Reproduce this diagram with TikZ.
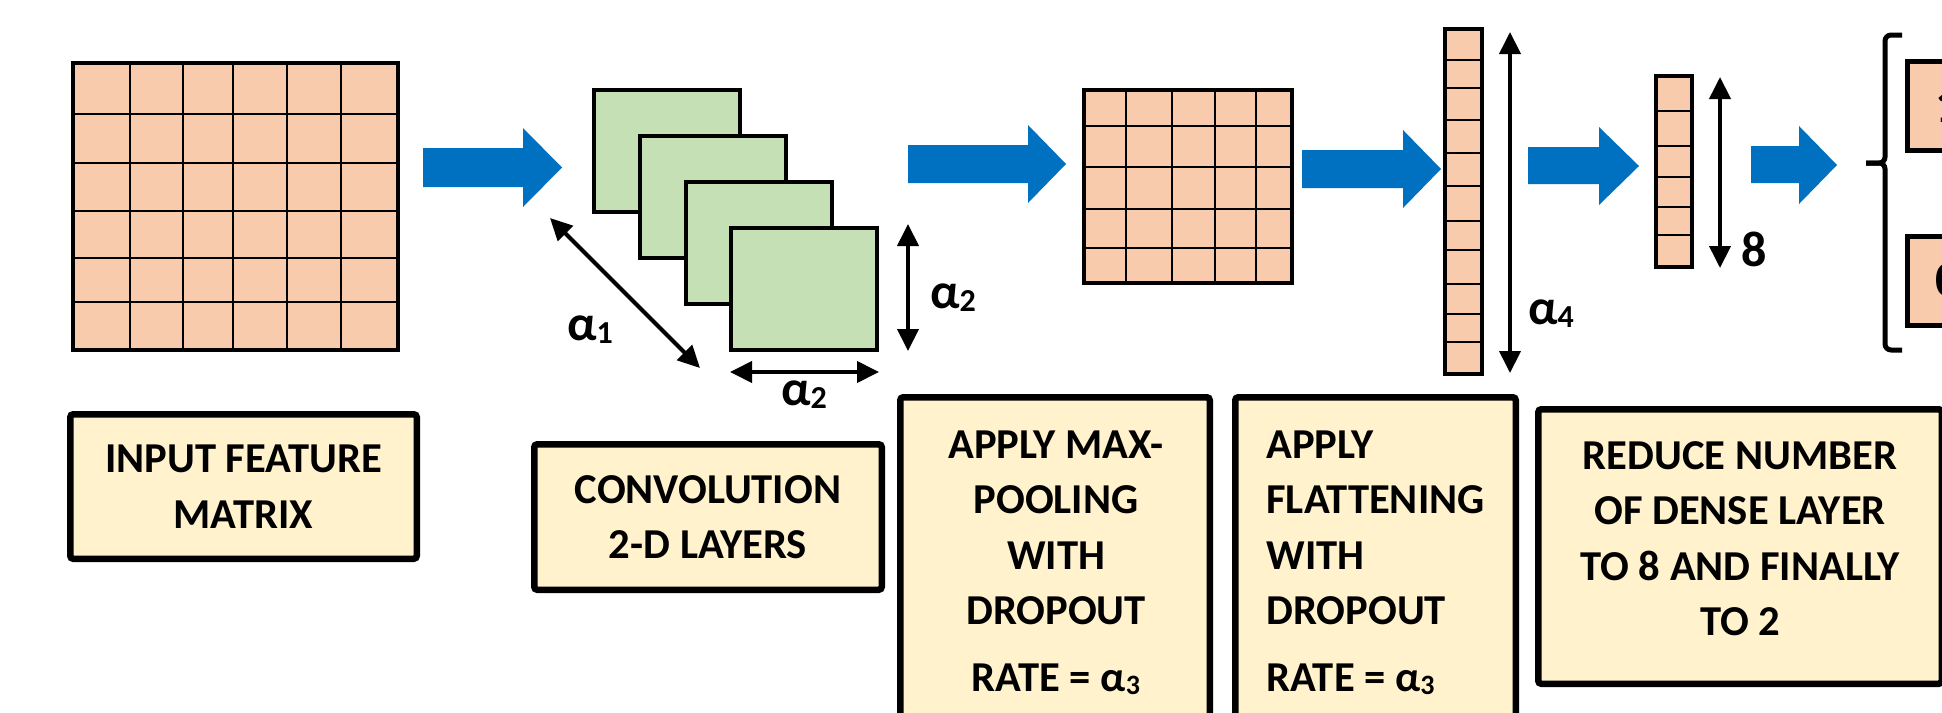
\documentclass[tikz,border=0pt]{standalone}
\usepackage{fontspec}
\setmainfont{Carlito}
\usetikzlibrary{arrows.meta}
\definecolor{peach}{HTML}{F8CBAD}
\definecolor{lgreen}{HTML}{C5E0B4}
\definecolor{cream}{HTML}{FFF2CC}
\definecolor{ablue}{HTML}{0070C0}
\begin{document}
\begin{tikzpicture}[x=0.5pt,y=-0.5pt,
  txtbox/.style={draw=black, line width=3.25pt, fill=cream, rounded corners=1.5pt, inner sep=0pt,
    font=\bfseries\fontsize{21.3}{27.75}\selectfont},
  boxtext/.style={inner sep=0pt, font=\bfseries\fontsize{21.3}{27.75}\selectfont},
  gridline/.style={line width=1pt},
  outline/.style={line width=1.75pt},
  blockarrow/.style={fill=ablue},
  dim/.style={line width=2pt, {Triangle[length=11pt,width=10.5pt]}-{Triangle[length=11pt,width=10.5pt]}},
  lbl/.style={font=\bfseries\fontsize{25}{25}\selectfont, inner sep=0pt},
  sq/.style={draw=black, line width=2pt, fill=lgreen, minimum width=73pt, minimum height=61pt, inner sep=0pt, anchor=north west},
  outbox/.style={draw=black, line width=2.5pt, fill=peach, minimum width=40.5pt, minimum height=44.5pt, inner sep=0pt,
    font=\bfseries\fontsize{25}{25}\selectfont},
  bracestyle/.style={line width=2.5pt, rounded corners=3pt}
]
\useasboundingbox (0,0) rectangle (1942,712);
\clip (0,0) rectangle (1942,712);

% ---------- input feature matrix ----------
\fill[peach] (73,63) rectangle (398,350);
\foreach \x in {130,183,233,287,341} \draw[gridline] (\x,63) -- (\x,350);
\foreach \y in {114,163,211,258,302} \draw[gridline] (73,\y) -- (398,\y);
\draw[outline] (73,63) rectangle (398,350);

% ---------- convolution layers ----------
\node[sq] (s1) at (592,88) {};
\node[sq] (s2) at (638,134) {};
\node[sq] (s3) at (684,180) {};
\node[sq] (s4) at (729,226) {};

% ---------- pooled matrix ----------
\fill[peach] (1084,90) rectangle (1292,283);
\foreach \x in {1126,1172,1215,1256} \draw[gridline] (\x,90) -- (\x,283);
\foreach \y in {126,167,209,248} \draw[gridline] (1084,\y) -- (1292,\y);
\draw[outline] (1084,90) rectangle (1292,283);

% ---------- flattened column ----------
\fill[peach] (1445,29) rectangle (1482,374);
\foreach \y in {60,88,120,153,186,221,250,284,314,342} \draw[gridline] (1445,\y) -- (1482,\y);
\draw[outline] (1445,29) rectangle (1482,374);

% ---------- dense column (8) ----------
\fill[peach] (1656,76) rectangle (1692,267);
\foreach \y in {111,146,177,207,235} \draw[gridline] (1656,\y) -- (1692,\y);
\draw[outline] (1656,76) rectangle (1692,267);

% ---------- blue block arrows ----------
\fill[blockarrow] (423,148) -- (523,148) -- (523,128) -- (562,167.5) -- (523,207) -- (523,187) -- (423,187) -- cycle;
\fill[blockarrow] (908,145) -- (1028,145) -- (1028,125) -- (1066,164) -- (1028,203) -- (1028,183) -- (908,183) -- cycle;
\fill[blockarrow] (1302,150) -- (1403,150) -- (1403,130) -- (1441,169) -- (1403,208) -- (1403,188) -- (1302,188) -- cycle;
\fill[blockarrow] (1528,147) -- (1599,147) -- (1599,127) -- (1639,166) -- (1599,205) -- (1599,184) -- (1528,184) -- cycle;
\fill[blockarrow] (1751,146) -- (1799,146) -- (1799,126) -- (1837,165) -- (1799,204) -- (1799,183) -- (1751,183) -- cycle;

% ---------- dimension arrows ----------
\coordinate (d1a) at (550,218); \coordinate (d1b) at (700,368);
\coordinate (d2a) at (908,224); \coordinate (d2b) at (908,351);
\coordinate (d3a) at (730,372); \coordinate (d3b) at (879,372);
\coordinate (d4a) at (1510,32); \coordinate (d4b) at (1510,373);
\coordinate (d5a) at (1720,77); \coordinate (d5b) at (1720,268);
\draw[dim] (d1a) -- (d1b);
\draw[dim] (d2a) -- (d2b);
\draw[dim] (d3a) -- (d3b);
\draw[dim] (d4a) -- (d4b);
\draw[dim] (d5a) -- (d5b);

\node[lbl] (la1) at (590,330) {α\raisebox{-1.5pt}{\fontsize{16}{16}\selectfont 1}};
\node[lbl] (la2v) at (953,298) {α\raisebox{-1.5pt}{\fontsize{16}{16}\selectfont 2}};
\node[lbl] (la2h) at (804,395) {α\raisebox{-1.5pt}{\fontsize{16}{16}\selectfont 2}};
\node[lbl] (la4) at (1551,314) {α\raisebox{-1.5pt}{\fontsize{16}{16}\selectfont 4}};
\node[lbl] (l8) at (1754,249) {8};

% ---------- output brace and boxes ----------
\draw[bracestyle] (1902,35) -- (1885,35) -- (1885,163) -- (1866,163);
\draw[bracestyle] (1866,163) -- (1885,163) -- (1885,350) -- (1902,350);
\node[outbox] (o1) at (1948,106) {1};
\node[outbox] (o2) at (1948,280.5) {0};

% ---------- text boxes ----------
\node[txtbox, align=center, minimum width=173.25pt, minimum height=72.25pt] (b1) at (243.5,486.5)
  {INPUT FEATURE\\MATRIX};
\node[txtbox, align=center, minimum width=173.75pt, minimum height=72.75pt] (b2) at (708,517)
  {CONVOLUTION\\2-D LAYERS};
\node[txtbox, minimum width=154.75pt, minimum height=161.25pt] (b3) at (1055,558.5) {};
\node[boxtext, align=center] (b3t) at (1056,563)
  {APPLY MAX-\\POOLING\\WITH\\DROPOUT\\[5.75pt]RATE = α\raisebox{-1.5pt}{\fontsize{14}{14}\selectfont 3}};
\node[txtbox, minimum width=140.25pt, minimum height=161.25pt] (b4) at (1375.5,558.5) {};
\node[boxtext, align=left] (b4t) at (1375.5,563)
  {APPLY\\FLATTENING\\WITH\\DROPOUT\\[5.75pt]RATE = α\raisebox{-1.5pt}{\fontsize{14}{14}\selectfont 3}};
\node[txtbox, minimum width=201.75pt, minimum height=137.25pt] (b5) at (1740,546.5) {};
\node[boxtext, align=center] (b5t) at (1740,538.5)
  {REDUCE NUMBER\\OF DENSE LAYER\\TO 8 AND FINALLY\\TO 2};
\end{tikzpicture}
\end{document}
